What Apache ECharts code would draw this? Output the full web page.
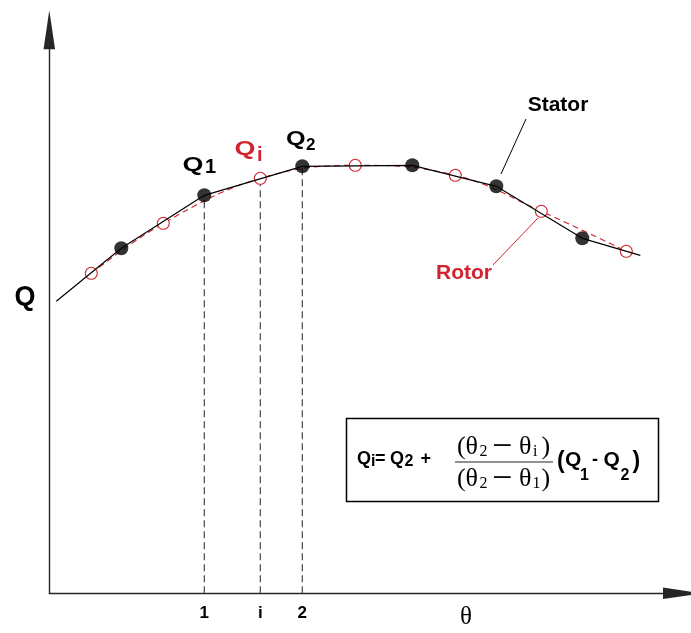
<!DOCTYPE html>
<html>
<head>
<meta charset="utf-8">
<script src="https://cdn.jsdelivr.net/npm/echarts@6/dist/echarts.min.js"></script>
<style>
  html, body { margin: 0; padding: 0; background: #fff; }
  #chart { width: 691px; height: 633px; }
</style>
</head>
<body>
<div id="chart"></div>
<script>
// Stator flux curve (solid black, filled dots on the inner samples)
var statorTheta = [7, 72, 155, 253, 363, 447, 533, 591];
var statorQ     = [292, 345, 398, 427, 428, 407, 355, 338];

// Rotor samples (dashed red, open circles)
var rotorTheta = [42, 114, 211, 306, 406, 492, 577];
var rotorQ     = [320, 370, 415, 428, 418, 382, 342];

// Interpolation stations marked on the theta axis
var markTheta  = [155, 211, 253];
var markQ      = [398, 415, 427];
var markLabels = ['1', 'i', '2'];

var RED = '#d3232e';
var BLACK = '#000';

function pairs(xs, ys) { return xs.map(function (x, k) { return [x, ys[k]]; }); }

var statorLine = pairs(statorTheta, statorQ);
var statorDots = statorLine.slice(1, -1);
var rotorPts = pairs(rotorTheta, rotorQ);

var chart = echarts.init(document.getElementById('chart'), null, { renderer: 'canvas' });

var guideSeries = markTheta.map(function (t, k) {
  return {
    type: 'line', z: 1, silent: true, symbol: 'none',
    data: [[t, 0], [t, markQ[k]]],
    lineStyle: { color: '#444', width: 1.2, type: [7, 4] }
  };
});

function txt(x, y, text, font, color, extra) {
  var el = {
    type: 'text', x: x, y: y, silent: true,
    style: { text: text, font: font, fill: color || BLACK, align: 'left', verticalAlign: 'middle' }
  };
  if (extra) { for (var k in extra) { el[k] = extra[k]; } }
  return el;
}

var SANS = '"Liberation Sans", Arial, sans-serif';
var SERIF = '"Liberation Serif", "Times New Roman", serif';
var B18 = 'bold 18px ' + SANS;
var B21 = 'bold 21px ' + SANS;
var B16 = 'bold 16px ' + SANS;
var S26 = '26px ' + SERIF;
var S16 = '16px ' + SERIF;
var S36 = '36px ' + SERIF;

var graphics = [
  // curve labels
  txt(182.5, 165.5, 'Q', 'bold 21px ' + SANS, BLACK, { scaleX: 1.28 }),
  txt(205, 167, '1', 'bold 20px ' + SANS, BLACK),
  txt(234.5, 149.5, 'Q', 'bold 21px ' + SANS, RED, { scaleX: 1.28 }),
  txt(257, 155.5, 'i', 'bold 20px ' + SANS, RED),
  txt(286, 139.5, 'Q', 'bold 21px ' + SANS, BLACK, { scaleX: 1.2 }),
  txt(306, 145.5, '2', 'bold 17px ' + SANS, BLACK),

  { type: 'text', x: 558, y: 105, silent: true,
    style: { text: 'Stator', font: 'bold 21px ' + SANS, fill: BLACK, align: 'center', verticalAlign: 'middle' } },
  { type: 'line', silent: true, shape: { x1: 526, y1: 119, x2: 501, y2: 174 },
    style: { stroke: BLACK, lineWidth: 1 } },
  { type: 'text', x: 464, y: 273.5, silent: true,
    style: { text: 'Rotor', font: 'bold 21px ' + SANS, fill: RED, align: 'center', verticalAlign: 'middle' } },
  { type: 'line', silent: true, shape: { x1: 493, y1: 265, x2: 538, y2: 218 },
    style: { stroke: RED, lineWidth: 1 } },

  // axis titles
  { type: 'text', x: 25, y: 298, silent: true,
    style: { text: 'Q', font: 'bold 27px ' + SANS, fill: BLACK, align: 'center', verticalAlign: 'middle' } },
  { type: 'text', x: 466, y: 617, silent: true,
    style: { text: 'θ', font: '25px ' + SERIF, fill: BLACK, align: 'center', verticalAlign: 'middle' } },

  // interpolation formula box
  { type: 'rect', silent: true, shape: { x: 346.5, y: 418.5, width: 312, height: 83 },
    style: { fill: '#fff', stroke: BLACK, lineWidth: 1.5 } },
  txt(357, 459.5, 'Q', B18),
  txt(371, 461.5, 'i', 'bold 16px ' + SANS),
  txt(375, 459.5, '=', B18),
  txt(390, 459.5, 'Q', B18),
  txt(404.5, 461.5, '2', B16),
  txt(420.5, 459.5, '+', B18),
  { type: 'line', silent: true, shape: { x1: 455, y1: 462, x2: 553, y2: 462 },
    style: { stroke: '#222', lineWidth: 1.2 } },
  // numerator
  txt(457, 447, '(', S26),
  txt(465.5, 447, 'θ', S26),
  txt(479.5, 452, '2', S16),
  txt(492, 448, '−', S36),
  txt(519, 447, 'θ', S26),
  txt(533, 452, 'i', S16),
  txt(541.5, 447, ')', S26),
  // denominator
  txt(457, 479, '(', S26),
  txt(465.5, 479, 'θ', S26),
  txt(479.5, 484, '2', S16),
  txt(492, 480, '−', S36),
  txt(519, 479, 'θ', S26),
  txt(532.5, 484, '1', S16),
  txt(541.5, 479, ')', S26),
  // (Q1 - Q2)
  txt(557, 461.5, '(', 'bold 23px ' + SANS),
  txt(565, 460.5, 'Q', B21),
  txt(580, 476, '1', B16),
  txt(592, 460.5, '-', B18),
  txt(603.5, 460.5, 'Q', B21),
  txt(620.5, 476, '2', B16),
  txt(632.5, 461.5, ')', 'bold 23px ' + SANS)
];

var option = {
  animation: false,
  backgroundColor: '#fff',
  grid: { left: 49.3, top: 29.8, right: 8.5, bottom: 39.7, outerBoundsMode: 'none' },
  xAxis: {
    type: 'value', min: 0, max: 633.2,
    splitLine: { show: false },
    axisTick: { show: false },
    axisLine: {
      show: true, onZero: false,
      symbol: ['none', 'triangle'], symbolSize: [11.5, 39],
      lineStyle: { color: '#262626', width: 1.4 }
    },
    axisLabel: {
      show: true, margin: 12,
      customValues: markTheta,
      formatter: function (v) {
        var k = markTheta.indexOf(v);
        return k >= 0 ? markLabels[k] : '';
      },
      color: BLACK, fontFamily: SANS, fontWeight: 'bold', fontSize: 17
    }
  },
  yAxis: {
    type: 'value', min: 0, max: 563.5,
    splitLine: { show: false },
    axisTick: { show: false },
    axisLabel: { show: false },
    axisLine: {
      show: true, onZero: false,
      symbol: ['none', 'triangle'], symbolSize: [11.5, 39],
      lineStyle: { color: '#262626', width: 1.4 }
    }
  },
  series: guideSeries.concat([
    {
      name: 'Rotor', type: 'line', z: 2, silent: true,
      data: rotorPts, smooth: 0.4,
      symbol: 'circle', symbolSize: 12,
      itemStyle: { color: '#fff', borderColor: RED, borderWidth: 1.1 },
      lineStyle: { color: RED, width: 1.1, type: [6, 4] }
    },
    {
      name: 'Stator', type: 'line', z: 3, silent: true,
      data: statorLine, symbol: 'none',
      lineStyle: { color: BLACK, width: 1.2 }
    },
    {
      name: 'Stator points', type: 'scatter', z: 4, silent: true,
      data: statorDots, symbol: 'circle', symbolSize: 14,
      itemStyle: { color: BLACK }
    }
  ]),
  graphic: graphics
};

chart.setOption(option);
</script>
</body>
</html>
